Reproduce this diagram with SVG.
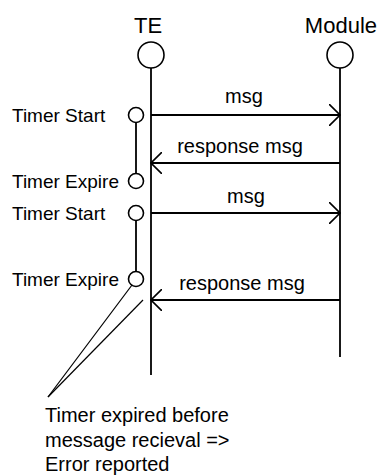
<svg xmlns="http://www.w3.org/2000/svg" width="378" height="476" viewBox="0 0 378 476">
  <style>
    .ln { stroke: #000; stroke-width: 1.8; fill: none; }
    .thin { stroke: #000; stroke-width: 1.2; fill: none; }
    .circ { stroke: #000; stroke-width: 1.6; fill: #fff; }
    .title { font-family: "Liberation Sans", Arial, sans-serif; font-size: 22px; fill: #000; }
    .lbl { font-family: "Liberation Sans", Arial, sans-serif; font-size: 19px; fill: #000; }
    .msg { font-family: "Liberation Sans", Arial, sans-serif; font-size: 20px; fill: #000; text-anchor: middle; }
  </style>
  <defs>
    <marker id="open" viewBox="0 0 12 22" refX="11" refY="11" markerWidth="12" markerHeight="22" markerUnits="userSpaceOnUse" orient="auto">
      <path d="M0,0 L11,11 L0,22" fill="none" stroke="#000" stroke-width="1.6"/>
    </marker>
  </defs>
  <rect width="378" height="476" fill="#fff"/>

  <!-- lifeline: TE -->
  <g id="te">
    <text class="title" x="148" y="33" text-anchor="middle">TE</text>
    <line class="ln" x1="151" y1="68" x2="151" y2="375"/>
    <circle class="circ" cx="151" cy="55" r="13"/>
  </g>

  <!-- lifeline: Module -->
  <g id="module">
    <text class="title" x="377" y="33" text-anchor="end">Module</text>
    <line class="ln" x1="340" y1="68" x2="340" y2="357"/>
    <circle class="circ" cx="340" cy="55" r="13"/>
  </g>

  <!-- first timer -->
  <g id="timer1">
    <line class="ln" x1="136" y1="123" x2="136" y2="173"/>
    <circle class="circ" cx="136" cy="115" r="7.5"/>
    <circle class="circ" cx="136" cy="181" r="7.5"/>
    <text class="lbl" x="12" y="122">Timer Start</text>
    <text class="lbl" x="12" y="188">Timer Expire</text>
  </g>

  <!-- second timer -->
  <g id="timer2">
    <line class="ln" x1="136" y1="221" x2="136" y2="271"/>
    <circle class="circ" cx="136" cy="213" r="7.5"/>
    <circle class="circ" cx="136" cy="279" r="7.5"/>
    <text class="lbl" x="12" y="220">Timer Start</text>
    <text class="lbl" x="12" y="286">Timer Expire</text>
  </g>

  <!-- note -->
  <g id="note">
    <text class="msg" x="45" y="422" style="text-anchor:start">Timer expired before</text>
    <text class="msg" x="45" y="447" style="text-anchor:start">message recieval =&gt;</text>
    <text class="msg" x="45" y="471" style="text-anchor:start">Error reported</text>
  </g>

  <!-- messages and note pointers -->
  <g id="connectors">
    <line class="ln" x1="151" y1="115" x2="340" y2="115" marker-end="url(#open)"/>
    <text class="msg" x="244" y="103">msg</text>

    <line class="ln" x1="340" y1="163" x2="151" y2="163" marker-end="url(#open)"/>
    <text class="msg" x="240" y="153">response msg</text>

    <line class="ln" x1="151" y1="213" x2="340" y2="213" marker-end="url(#open)"/>
    <text class="msg" x="246" y="203">msg</text>

    <line class="ln" x1="340" y1="300" x2="151" y2="300" marker-end="url(#open)"/>
    <text class="msg" x="242" y="290">response msg</text>

    <line class="thin" x1="132" y1="285" x2="48" y2="397"/>
    <line class="thin" x1="143" y1="300" x2="48" y2="397"/>
  </g>
</svg>
